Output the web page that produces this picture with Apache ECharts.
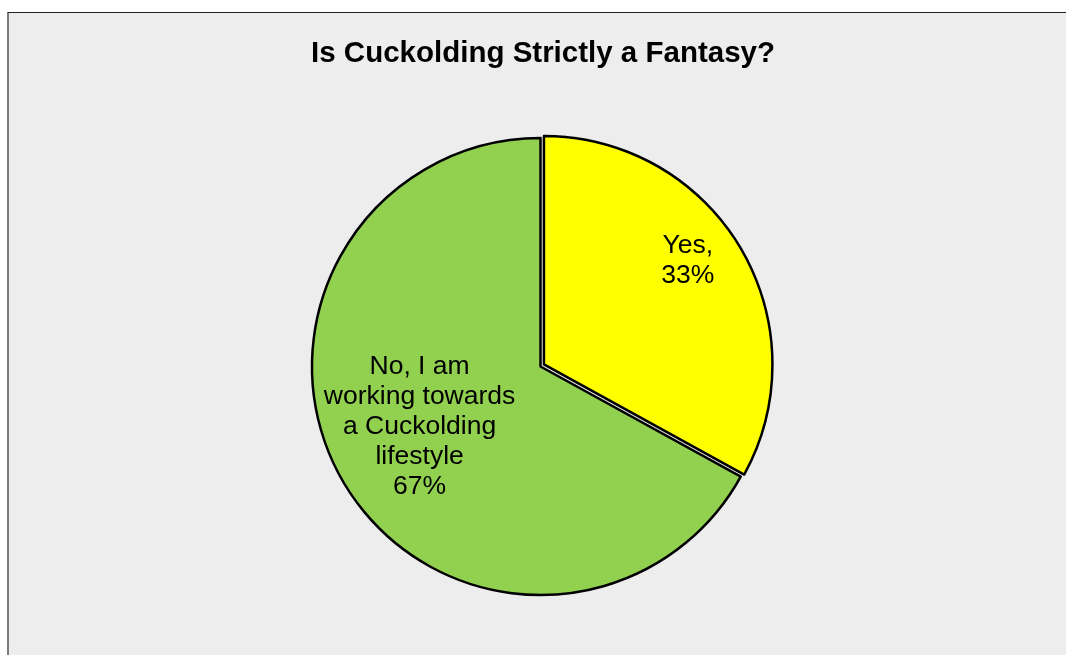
<!DOCTYPE html>
<html>
<head>
<meta charset="utf-8">
<script src="https://cdn.jsdelivr.net/npm/echarts@6/dist/echarts.min.js"></script>
<style>
  html, body { margin: 0; padding: 0; background: #ffffff; }
  #chart {
    position: absolute; left: 7px; top: 12px;
    width: 1057px; height: 642px;
    background: #ededed;
    border-top: 1px solid #222222;
    border-left: 2px solid #7a7a7a;
  }
</style>
</head>
<body>
<div id="chart"></div>
<script>
// survey answers
const answerNames = ['Yes,', 'No, I am\nworking towards\na Cuckolding\nlifestyle']
const answerValues = [33, 67]
const answerColors = ['#ffff00', '#92d050']

// nudges for the inside labels (Excel places them off the mid-radius)
const labelShift = [[43, -44], [-20, 1]]

const myChart = echarts.init(document.getElementById('chart'))

const option = {
  animation: false,
  title: {
    text: 'Is Cuckolding Strictly a Fantasy?',
    left: 529,
    top: 21,
    textAlign: 'center',
    textStyle: {
      fontFamily: 'Liberation Sans, Arial',
      fontSize: 29.5,
      fontWeight: 'bold',
      color: '#000'
    }
  },
  series: [
    {
      type: 'pie',
      center: [531.5, 353.5],
      radius: 228.5,
      startAngle: 90,
      clockwise: true,
      selectedMode: 'single',
      selectedOffset: 4,
      data: answerNames.map((name, i) => ({
        name: name,
        value: answerValues[i],
        selected: i === 0,
        itemStyle: { color: answerColors[i] },
        select: { itemStyle: { color: answerColors[i], borderColor: '#000', borderWidth: 2.5 } }
      })),
      itemStyle: {
        borderColor: '#000',
        borderWidth: 2.5
      },
      emphasis: { disabled: true },
      label: {
        position: 'inside',
        formatter: '{b}\n{d}%',
        fontFamily: 'Liberation Sans, Arial',
        fontSize: 26.5,
        lineHeight: 30,
        color: '#000',
        align: 'center'
      },
      labelLine: { show: false },
      labelLayout: (params) => ({
        dx: labelShift[params.dataIndex][0],
        dy: labelShift[params.dataIndex][1]
      })
    }
  ]
}

option && myChart.setOption(option)
</script>
</body>
</html>
